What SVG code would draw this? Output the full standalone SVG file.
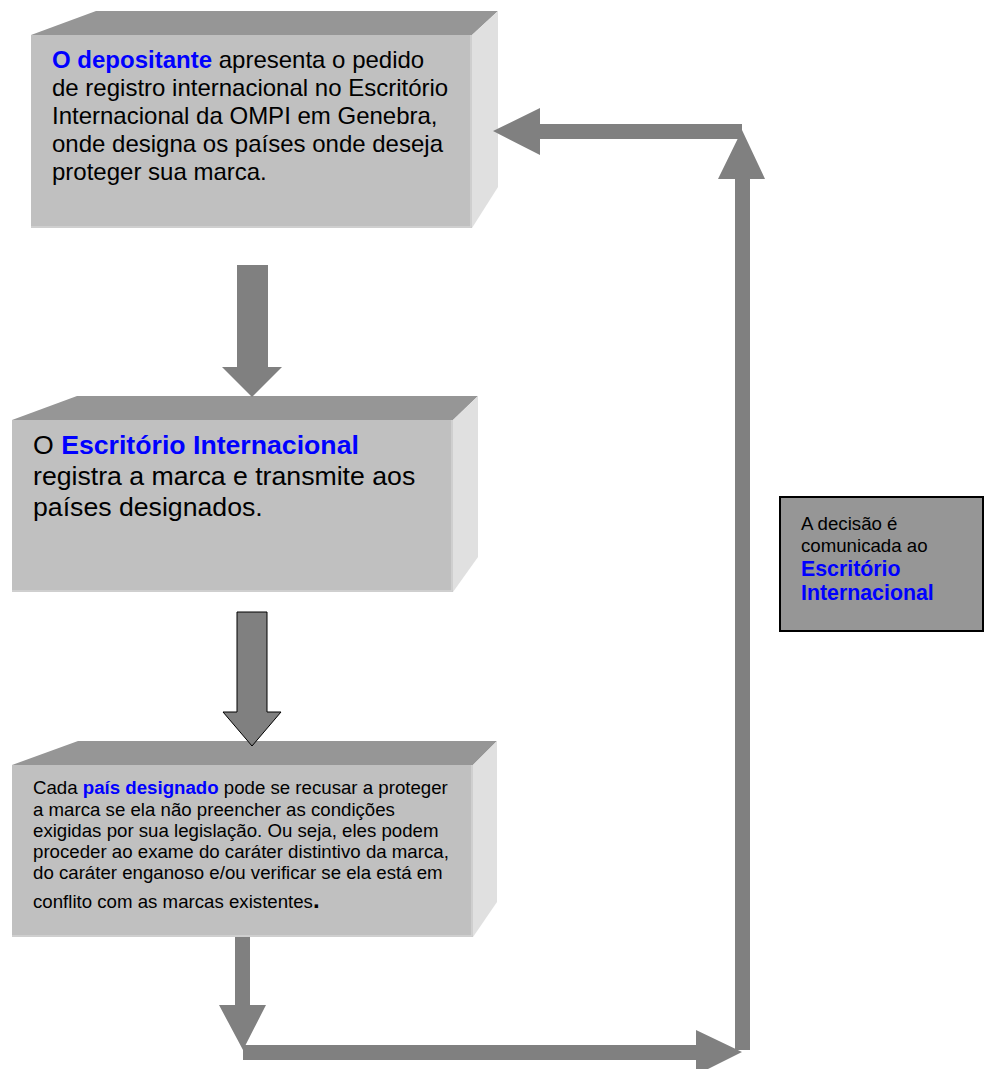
<svg xmlns="http://www.w3.org/2000/svg" width="984" height="1069" viewBox="0 0 984 1069">
<style>
.front{fill:#C0C0C0;}
.top{fill:#969696;}
.side{fill:#E0E0E0;}
.edge{fill:none;stroke:#D4D4D4;stroke-width:1.5;}
.t{font-family:"Liberation Sans",Arial,sans-serif;fill:#000000;}
.b{font-weight:bold;fill:#0000FF;}
.conn{fill:#808080;}
</style>
<rect width="984" height="1069" fill="#FFFFFF"/>

<g id="node-depositante">
<rect class="front" x="31" y="35" width="441" height="193"/>
<polygon class="top" points="31,35 96,11 498,11 472,35"/>
<polygon class="side" points="472,35 498,11 498,187 472,228"/>
<polyline class="edge" points="471,35 471,227 31,227"/>
<text class="t" font-size="24">
<tspan x="52" y="68"><tspan class="b">O depositante</tspan> apresenta o pedido</tspan>
<tspan x="52" y="96">de registro internacional no Escritório</tspan>
<tspan x="52" y="124">Internacional da OMPI em Genebra,</tspan>
<tspan x="52" y="152">onde designa os países onde deseja</tspan>
<tspan x="52" y="180">proteger sua marca.</tspan>
</text>
</g>

<g id="node-escritorio">
<rect class="front" x="12" y="420" width="441" height="172"/>
<polygon class="top" points="12,420 77,396 478,396 453,420"/>
<polygon class="side" points="453,420 478,396 478,557 453,592"/>
<polyline class="edge" points="452,420 452,591 12,591"/>
<text class="t" font-size="26.67">
<tspan x="33" y="454">O <tspan class="b">Escritório Internacional</tspan></tspan>
<tspan x="33" y="485">registra a marca e transmite aos</tspan>
<tspan x="33" y="516">países designados.</tspan>
</text>
</g>

<g id="node-pais">
<rect class="front" x="12" y="765" width="461" height="172"/>
<polygon class="top" points="12,765 78,741 497,741 473,765"/>
<polygon class="side" points="473,765 497,741 497,902 473,937"/>
<polyline class="edge" points="472,765 472,936 12,936"/>
<text class="t" font-size="18.67">
<tspan x="33" y="794">Cada <tspan class="b">país designado</tspan> pode se recusar a proteger</tspan>
<tspan x="33" y="816">a marca se ela não preencher as condições</tspan>
<tspan x="33" y="837">exigidas por sua legislação. Ou seja, eles podem</tspan>
<tspan x="33" y="858">proceder ao exame do caráter distintivo da marca,</tspan>
<tspan x="33" y="879">do caráter enganoso e/ou verificar se ela está em</tspan>
<tspan x="33" y="908">conflito com as marcas existentes<tspan font-size="24" font-weight="bold">.</tspan></tspan>
</text>
</g>

<g id="node-decisao">
<rect x="780" y="497" width="203" height="134" fill="#969696" stroke="#000000" stroke-width="2"/>
<text class="t" font-size="18.67">
<tspan x="801" y="530">A decisão é</tspan>
<tspan x="801" y="552">comunicada ao</tspan>
<tspan x="801" y="576" class="b" font-size="21.33">Escritório</tspan>
<tspan x="801" y="600" class="b" font-size="21.33">Internacional</tspan>
</text>
</g>

<g id="connectors">
<polygon class="conn" points="237,265 268,265 268,367 282,367 252,397 222,367 237,367"/>
<polygon class="conn" points="237,612 267,612 267,712 281,712 252,746 223,712 237,712" stroke="#000000" stroke-width="1"/>
<polygon class="conn" points="235,937 250,937 250,1005 266,1005 243,1050 219,1005 235,1005"/>
<polygon class="conn" points="243,1045 696,1045 696,1030 742,1052 696,1075 696,1060 243,1060"/>
<polygon class="conn" points="735,1050 735,179 718,179 742,130 765,179 750,179 750,1050"/>
<polygon class="conn" points="742,124 540,124 540,108 493,131 540,155 540,139 742,139"/>
</g>
</svg>
